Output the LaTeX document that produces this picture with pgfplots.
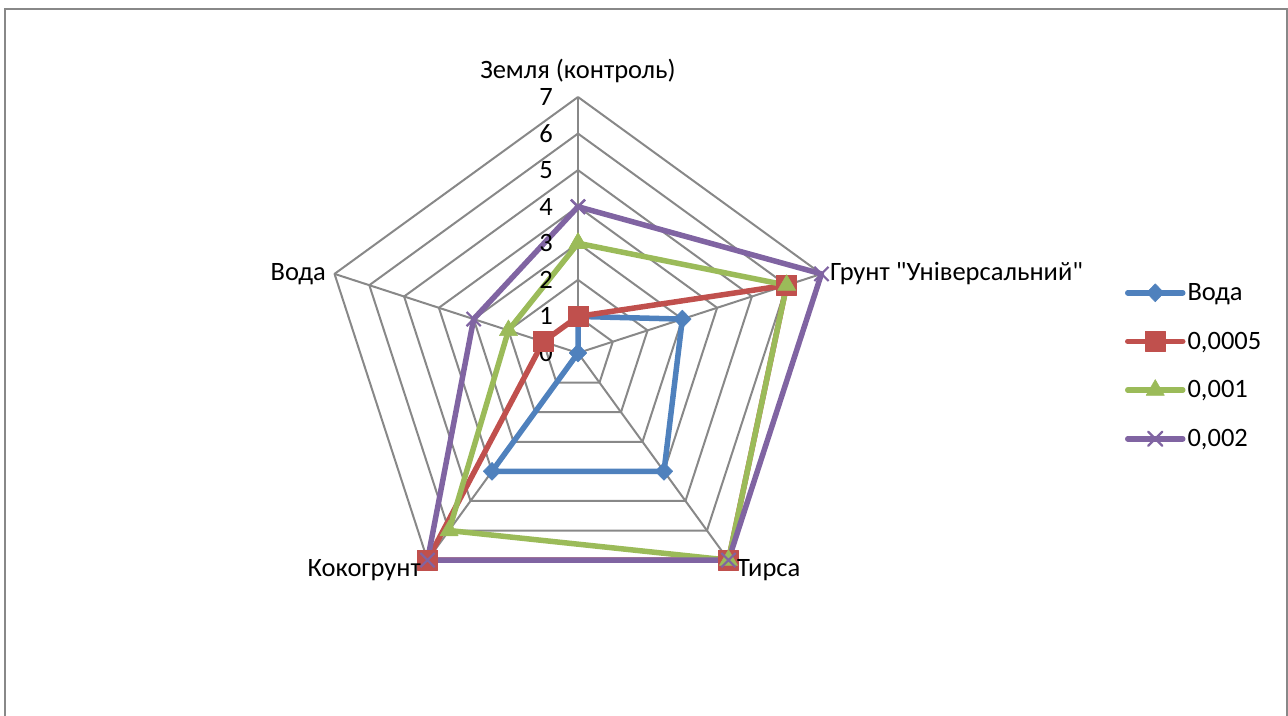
\documentclass[border=0pt]{standalone}
\usepackage{fontspec}
\setmainfont{Carlito}[Ligatures=TeXOff]
\usepackage{pgfplots}
\pgfplotsset{compat=1.18}
\usepgfplotslibrary{polar}
\definecolor{sBlue}{HTML}{4F81BD}
\definecolor{sRed}{HTML}{C0504D}
\definecolor{sGreen}{HTML}{9BBB59}
\definecolor{sPurple}{HTML}{8064A2}
\definecolor{gridc}{HTML}{888888}
\newcommand{\fs}{\fontsize{26.5}{31}\selectfont}
\begin{document}
\begin{tikzpicture}[x=1pt,y=1pt]
\begin{polaraxis}[
  at={(578pt,362pt)}, anchor=center,
  width=512pt, height=512pt, scale only axis,
  ymin=0, ymax=7, xmin=0, xmax=360,
  axis line style={draw=none}, xtick=\empty, ytick=\empty,
  clip=false,
  legend style={at={(axis description cs:1.568,0.64)}, anchor=north west, draw=none,
    font=\fs, row sep=26pt, inner sep=0pt},
  legend cell align=left,
  legend image code/.code={\draw[mark repeat=2,mark phase=2, line cap=round] plot coordinates {(0pt,0pt)(27.5pt,0pt)(55pt,0pt)};},
  every axis plot/.append style={line join=round},
]
% grid
\addplot[gridc, line width=2pt, forget plot, mark=none] coordinates {(90,1)(18,1)(306,1)(234,1)(162,1)(90,1)};
\addplot[gridc, line width=2pt, forget plot, mark=none] coordinates {(90,2)(18,2)(306,2)(234,2)(162,2)(90,2)};
\addplot[gridc, line width=2pt, forget plot, mark=none] coordinates {(90,3)(18,3)(306,3)(234,3)(162,3)(90,3)};
\addplot[gridc, line width=2pt, forget plot, mark=none] coordinates {(90,4)(18,4)(306,4)(234,4)(162,4)(90,4)};
\addplot[gridc, line width=2pt, forget plot, mark=none] coordinates {(90,5)(18,5)(306,5)(234,5)(162,5)(90,5)};
\addplot[gridc, line width=2pt, forget plot, mark=none] coordinates {(90,6)(18,6)(306,6)(234,6)(162,6)(90,6)};
\addplot[gridc, line width=2pt, forget plot, mark=none] coordinates {(90,7)(18,7)(306,7)(234,7)(162,7)(90,7)};
\addplot[gridc, line width=2pt, forget plot, mark=none] coordinates {(90,0)(90,7)};
\addplot[gridc, line width=2pt, forget plot, mark=none] coordinates {(18,0)(18,7)};
\addplot[gridc, line width=2pt, forget plot, mark=none] coordinates {(306,0)(306,7)};
\addplot[gridc, line width=2pt, forget plot, mark=none] coordinates {(234,0)(234,7)};
\addplot[gridc, line width=2pt, forget plot, mark=none] coordinates {(162,0)(162,7)};
% series: Земля, Грунт, Тирса, Кокогрунт, Вода
\addplot[sBlue, line width=5.5pt, mark=diamond*, mark size=9pt, mark options={line width=0.5pt, xscale=1.3}]
  coordinates {(90,1)(18,3)(306,4)(234,4)(162,0)(90,1)};
\addlegendentry{Вода}
\addplot[sRed, line width=5.5pt, mark=square*, mark size=10pt, mark options={line width=0.5pt}]
  coordinates {(90,1)(18,6)(306,7)(234,7)(162,1)(90,1)};
\addlegendentry{0,0005}
\addplot[sGreen, line width=5.5pt, mark=triangle*, mark size=10.5pt, mark options={line width=0.5pt}]
  coordinates {(90,3)(18,6)(306,7)(234,6)(162,2)(90,3)};
\addlegendentry{0,001}
\addplot[sPurple, line width=5.5pt, mark=x, mark size=10pt, mark options={line width=2.2pt}]
  coordinates {(90,4)(18,7)(306,7)(234,7)(162,3)(90,4)};
\addlegendentry{0,002}
% tick labels
\node[anchor=east, font=\fs, xshift=-25pt, inner sep=0pt] at (axis cs:90,0) {0};
\node[anchor=east, font=\fs, xshift=-25pt, inner sep=0pt] at (axis cs:90,1) {1};
\node[anchor=east, font=\fs, xshift=-25pt, inner sep=0pt] at (axis cs:90,2) {2};
\node[anchor=east, font=\fs, xshift=-25pt, inner sep=0pt] at (axis cs:90,3) {3};
\node[anchor=east, font=\fs, xshift=-25pt, inner sep=0pt] at (axis cs:90,4) {4};
\node[anchor=east, font=\fs, xshift=-25pt, inner sep=0pt] at (axis cs:90,5) {5};
\node[anchor=east, font=\fs, xshift=-25pt, inner sep=0pt] at (axis cs:90,6) {6};
\node[anchor=east, font=\fs, xshift=-25pt, inner sep=0pt] at (axis cs:90,7) {7};
\end{polaraxis}
% category labels
\begin{scope}[every node/.style={font=\fs, inner sep=0pt}]
\node[anchor=base] at (578,636) {Земля (контроль)};
\node[anchor=base west] at (830,434) {Грунт "Універсальний"};
\node[anchor=base west] at (737,138) {Тирса};
\node[anchor=base east] at (421,138) {Кокогрунт};
\node[anchor=base east] at (326,434) {Вода};
\end{scope}
% frame
\draw[color=gridc, line width=2pt] (5,-20) -- (5,706) -- (1287,706) -- (1287,-20);
\pgfresetboundingbox
\useasboundingbox (0,0) rectangle (1288,715);
\end{tikzpicture}
\end{document}
